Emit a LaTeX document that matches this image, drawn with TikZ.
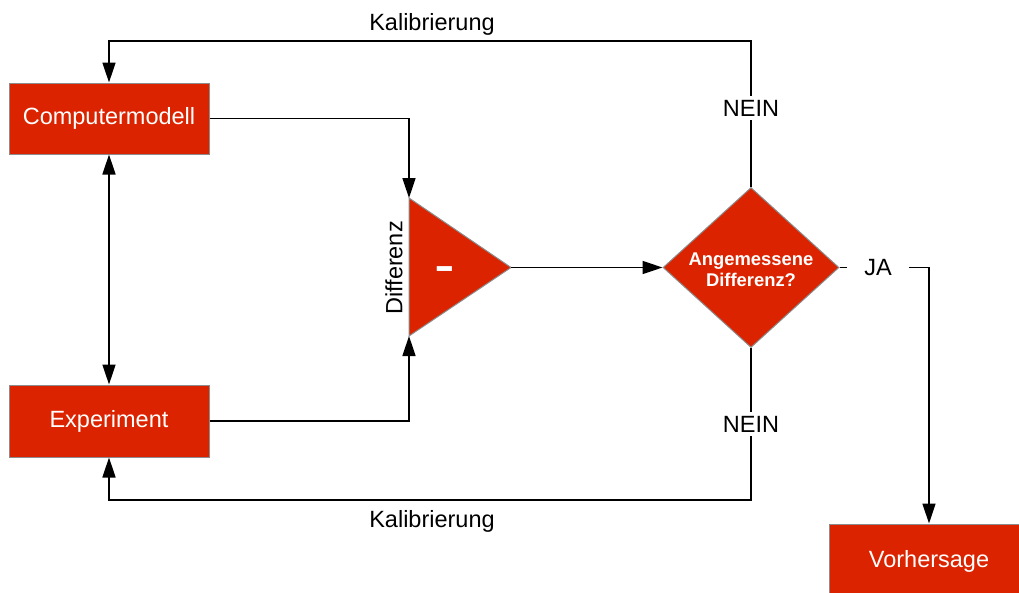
\documentclass[tikz,border=0pt]{standalone}
\usepackage{fontspec}
\setmainfont{Liberation Sans}
\usetikzlibrary{arrows.meta,shapes.geometric}
\definecolor{boxred}{RGB}{220,35,0}
\definecolor{rimgray}{RGB}{140,140,140}
\begin{document}
\begin{tikzpicture}[x=1pt,y=-1pt,
  txt/.style={font=\fontsize{23.5}{27}\selectfont},
  box/.style={txt, rectangle, fill=boxred, draw=rimgray, line width=1pt,
    text=white, minimum width=200pt, minimum height=71pt, inner sep=0pt},
  decision/.style={diamond, fill=boxred, draw=rimgray, line width=1pt,
    minimum width=176pt, minimum height=160pt, inner sep=0pt},
  dtext/.style={text=white, align=center, inner sep=0pt,
    font=\fontsize{18.4}{21}\selectfont\bfseries},
  lbl/.style={txt, text=black, fill=white, inner sep=3.5pt},
  flow/.style={line width=1.6pt, -{Triangle[length=20pt,width=13pt]}},
  both/.style={line width=1.6pt, {Triangle[length=20pt,width=13pt]}-{Triangle[length=20pt,width=13pt]}},
  plain/.style={line width=1.6pt}
]
\useasboundingbox (0,0) rectangle (1019,592);
\clip (0,0) rectangle (1019,592);

% process blocks
\node[box] (cm) at (109,118.5) {\raisebox{-1pt}{Computermodell}};
\node[box, minimum height=72pt] (ex) at (109,421) {\raisebox{-1.5pt}{Experiment}};
\node[box, minimum height=74pt] (vh) at (929,561) {Vorhersage};

% comparator triangle
\coordinate (tritop) at (409,198);
\coordinate (tribot) at (409,336);
\coordinate (tritip) at (511,267.5);
\filldraw[fill=boxred, draw=rimgray, line width=1pt] (tritop) -- (tritip) -- (tribot) -- cycle;
\node[anchor=base, text=white, inner sep=0pt,
  font=\fontsize{62}{62}\selectfont] (minus) at (445,285) {-};
\node[txt, rotate=90] (diff) at (394,268) {Differenz};

% decision
\node[decision] (dia) at (751,267.5) {};
\node[dtext] (q) at (751,269.5) {Angemessene\\Differenz?};

% inputs into the comparator
\draw[flow] (cm.east) -| (tritop);
\draw[flow] (ex.east) -| (tribot);
\draw[both] (cm.south) -- (ex.north);
\draw[flow] (tritip) -- (dia.west);

% calibration loop, top
\coordinate (ktop) at (432,41);
\draw[flow] (dia.north) -- (dia.north |- ktop) -| (cm.north);
\node[lbl] (nein1) at (751,108) {NEIN};
\node[txt, anchor=base] (kal1) at (432,30) {Kalibrierung};

% calibration loop, bottom
\coordinate (kbot) at (432,500);
\draw[flow] (dia.south) -- (dia.south |- kbot) -| (ex.south);
\node[lbl] (nein2) at (751,424) {NEIN};
\node[txt, anchor=base] (kal2) at (432,527.5) {Kalibrierung};

% accepted branch
\node[txt, inner xsep=17pt, inner ysep=0pt] (ja) at (878,267.5) {JA};
\draw[plain] (dia.east) -- (ja.west);
\draw[flow] (ja.east) -| (vh.north);
\end{tikzpicture}
\end{document}
